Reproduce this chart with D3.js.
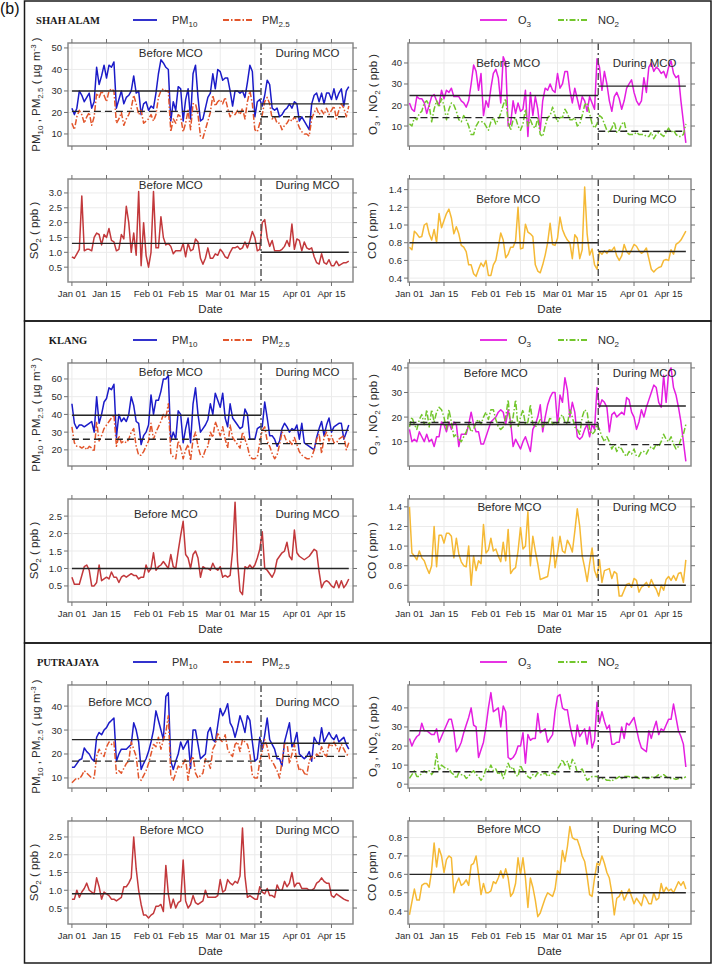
<!DOCTYPE html>
<html>
<head>
<meta charset="utf-8">
<script src="https://cdn.jsdelivr.net/npm/d3@7"></script>
<style>
  body { margin: 0; background: #fff; }
  svg text { font-family: "Liberation Sans", Arial, sans-serif; fill: #2b2b2b; }
</style>
</head>
<body>
<svg id="chart" width="713" height="965"></svg>
<script>
// ---- Data (daily means, 1 Jan - 22 Apr 2020) ----
const startDate = new Date(2020, 0, 1);
const endDate = new Date(2020, 3, 23); // exclusive
const mcoLineDate = new Date(2020, 2, 17, 12);
const tickDates = [
  new Date(2020, 0, 1), new Date(2020, 0, 15), new Date(2020, 1, 1), new Date(2020, 1, 15),
  new Date(2020, 2, 1), new Date(2020, 2, 15), new Date(2020, 3, 1), new Date(2020, 3, 15)
];
const stationNames = ['SHAH ALAM', 'KLANG', 'PUTRAJAYA'];

// Shah Alam
const shahAlamPM10 = [
  22,19,22,30,28,25,27,29,22,25,
  41,33,37,42,36,42,41,43.5,22,26,
  30,24,27,28,30,37,29,30,19,24,
  25,21,23,22,29,38,44.5,43,41,40,
  16,25,21,32,31,16,26,31,17,38,
  42,27,16,17,22,27,29,38,31,40,
  39,35,36,36,30,23,30,30,29,30,
  27,34,42,39,18,25,26,23,28,35,
  33,22,21,22,18,19,21,22,24,22,
  25,24,16,18,16,14,12,24,28,29,
  25,29,24,29,29,26,31,26,29,31,
  23,30,32];
const shahAlamPM25 = [
  15,12,18,21,19,15,18,20,14,18,
  29,27,30,28,25,30,31,30,15,17,
  20,14,17,19,22,28,24,19,21,15,
  16,17,19,16,19,27,30,31,30,30,
  11,17,15,19,18,11,15,21,12,24,
  24,19,9,8,12,16,20,28,23,25,
  26,24,27,22,18,20,19,21,19,22,
  17,25,30,24,12,11,15,19,25,27,
  24,17,18,15,15,12,14,15,17,16,
  18,16,13,11,10,10,9,17,20,22,
  19,21,19,22,19,21,23,17,21,24,
  22,18,23];
const shahAlamO3 = [
  21,18,17,24,23,23,21,16,20,24,
  25,22,20,27,23,27,26,28,24,24,
  24,22,21,19,22,30,39,36,27,35,
  15,22,19,28,35,37,33,21,43,40,
  10,11,22,16,21,17,18,27,5,26,
  15,24,18,8,22,28,27,30,27,26,
  35,28,30,36,36,27,21,28,23,18,
  24,22,17,24,21,18,42,38,27,36,
  30,22,17,24,26,23,18,22,28,30,
  32,26,22,20,22,33,26,38,40,36,
  38,37,35,36,33,38,41,35,33,34,
  22,12,2];
const shahAlamNO2 = [
  11,10,14,13,16,17,21,22,20,12,
  18,22,19,23,20,13,18,21,20,17,
  13,12,15,13,10,6,6,10,12,12,
  12,10,8,12,14,11,13,16,20,23,
  12,8,13,14,10,8,11,18,10,13,
  10,9,14,6,5,10,14,15,19,15,
  12,14,14,18,16,13,13,14,10,11,
  15,20,21,16,11,9,11,15,14,11,
  8,7,9,12,7,8,11,12,7,6,
  6,6,7,6,6,6,5,5,7,4,
  6,7,6,5,7,9,7,8,6,5,
  5,6,11];
const shahAlamSO2 = [
  0.85,0.8,0.95,1.1,2.9,1.05,1.1,1.1,1.05,1.5,
  1.65,1.6,1.25,1.6,1.5,1.8,1.4,1.35,1.05,1.1,
  1.6,1.45,2.55,2.0,1.0,1.65,0.9,3.05,0.55,2.0,
  0.9,0.5,1.0,3.05,1.15,1.15,2.2,1.5,1.25,1.3,
  1.2,0.95,1.05,1.05,1.05,1.3,0.85,1.3,1.05,1.1,
  1.45,1.35,0.8,0.6,0.8,1.15,0.8,0.8,0.95,0.9,
  1.1,1.0,0.85,0.8,1.0,1.15,1.15,1.2,1.1,1.15,
  1.35,1.15,1.4,1.7,1.5,1.05,1.1,2.0,2.1,1.5,
  1.2,1.4,1.05,1.05,1.05,1.1,1.2,1.4,1.2,1.95,
  1.1,1.45,1.4,1.05,1.35,1.15,1.1,1.15,0.85,0.65,
  0.6,0.95,0.65,0.6,0.75,0.55,0.55,0.7,0.55,0.6,
  0.65,0.65,0.7];
const shahAlamCO = [
  0.75,0.72,0.93,0.9,0.86,0.87,1.0,1.02,0.9,0.83,
  0.95,0.8,1.13,0.97,1.05,1.13,1.18,1.08,0.9,0.98,
  0.9,0.77,0.75,0.7,0.55,0.55,0.45,0.42,0.5,0.57,
  0.53,0.6,0.43,0.43,0.55,0.6,0.75,0.91,0.83,0.63,
  0.67,0.75,0.75,0.82,1.2,0.73,0.74,1.01,0.92,0.9,
  0.87,0.55,0.48,0.46,0.55,0.66,0.8,1.02,0.78,0.77,
  0.85,1.09,0.95,0.88,0.83,0.8,0.62,0.89,0.85,0.62,
  0.72,1.43,0.9,0.66,0.73,0.55,0.5,0.7,0.67,0.71,
  0.68,0.72,0.71,0.75,0.65,0.6,0.65,0.78,0.7,0.67,
  0.72,0.78,0.76,0.71,0.68,0.7,0.74,0.62,0.5,0.47,
  0.5,0.52,0.53,0.6,0.61,0.6,0.72,0.67,0.78,0.8,
  0.83,0.88,0.93];

// Klang
const klangPM10 = [
  46,35,32,34,34,33,34,35,36,30,
  50,35,40,47,49,55,54,57,27,40,
  36,38,36,40,50,45,36,35,23,28,
  30,34,51,40,48,48,53,60,60,62,
  25,30,26,42,40,24,32,38,24,46,
  55,40,30,32,34,37,46,40,52,48,
  44,52,38,33,46,38,36,34,32,33,
  43,40,26,26,26,32,33,33,47,38,
  28,28,26,22,25,32,35,33,30,32,
  31,34,26,35,24,23,22,21,20,27,
  32,36,28,34,38,30,33,34,35,35,
  26,30,34];
const klangPM25 = [
  33,24,22,22,21,22,20,22,21,19,
  36,25,28,32,34,36,38,40,22,28,
  24,25,24,26,30,32,22,17,17,19,
  22,25,35,26,30,33,36,40,38,46,
  18,16,15,25,21,15,20,23,14,26,
  30,22,17,16,20,22,30,27,36,32,
  28,33,26,21,34,27,25,23,21,30,
  26,22,16,15,15,16,24,31,33,25,
  22,18,15,17,23,30,28,24,25,23,
  27,23,19,17,16,15,15,16,20,26,
  29,18,27,30,25,28,24,24,26,27,
  28,20,24];
const klangO3 = [
  15,10,11,10,14,12,10,13,10,11,
  8,12,12,18,17,14,18,15,18,17,
  8,13,13,13,17,22,17,14,14,9,
  9,12,15,18,19,20,22,23,22,17,
  23,18,8,11,9,7,10,12,9,6,
  15,17,20,25,14,20,25,28,30,30,
  17,29,26,36,31,20,26,22,12,11,
  12,15,17,12,17,15,32,24,27,26,
  24,14,21,22,20,21,22,21,28,27,
  22,20,15,18,23,20,24,27,30,33,
  32,26,24,37,26,38,40,32,29,24,
  18,10,2];
const klangNO2 = [
  16,20,17,15,19,21,17,23,16,23,
  18,22,24,23,20,15,23,18,12,13,
  11,10,12,14,17,14,15,18,19,17,
  20,22,19,23,23,19,16,15,16,20,
  27,16,20,27,16,20,23,17,18,25,
  17,16,17,19,16,18,17,20,17,18,
  17,20,21,18,17,23,20,16,15,13,
  20,23,22,15,13,14,17,15,12,10,
  12,10,7,9,6,8,7,5,4,6,
  5,7,4,4,6,6,5,7,8,7,
  9,8,10,13,11,10,12,9,7,8,
  11,13,17];
const klangSO2 = [
  0.75,0.55,0.55,0.55,0.8,1.05,1.1,0.95,0.5,0.5,
  0.6,1.1,0.65,0.7,0.75,0.7,0.9,0.75,0.75,0.6,
  0.75,0.8,0.75,0.8,0.85,0.8,0.8,0.7,0.75,0.75,
  1.1,0.9,1.0,1.45,0.95,1.05,1.1,1.2,1.1,1.0,
  1.4,1.05,1.0,1.5,1.95,2.35,1.4,1.3,1.0,1.4,
  1.5,1.3,0.75,1.05,1.0,1.0,0.95,1.15,1.0,0.95,
  1.05,0.75,0.8,0.75,0.8,1.5,2.9,1.2,0.35,0.25,
  1.05,1.0,1.1,1.0,1.1,1.3,1.55,2.05,1.0,0.95,
  0.85,0.75,0.9,1.25,1.35,1.45,1.5,1.75,1.35,1.25,
  2.1,1.45,1.35,1.3,1.25,1.3,1.35,1.45,1.55,1.5,
  0.9,0.45,0.6,0.65,0.6,0.5,0.45,0.65,0.45,0.65,
  0.45,0.55,0.7];
const klangCO = [
  1.4,0.93,0.9,0.86,0.95,0.88,0.85,0.78,0.72,0.8,
  1.2,0.79,1.11,1.11,1.03,1.13,1.13,1.1,0.88,1.08,
  0.92,0.84,0.8,0.79,1.0,0.6,0.9,0.75,0.85,0.82,
  1.22,0.93,0.96,1.08,0.95,0.97,0.9,0.84,1.04,0.85,
  1.17,0.72,0.76,0.78,0.95,1.19,0.97,1.0,1.35,0.8,
  1.1,0.95,0.82,0.66,0.67,0.68,0.69,0.85,1.09,0.78,
  0.93,1.1,0.95,0.93,1.06,1.01,0.94,1.15,1.38,1.2,
  0.9,0.78,0.64,0.82,0.98,0.75,0.68,0.86,0.63,0.75,
  0.76,0.77,0.67,0.74,0.72,0.49,0.49,0.55,0.61,0.62,
  0.58,0.67,0.65,0.53,0.58,0.6,0.63,0.58,0.66,0.6,
  0.56,0.49,0.6,0.55,0.66,0.69,0.65,0.7,0.65,0.72,
  0.73,0.63,0.86];

// Putrajaya
const putrajayaPM10 = [
  14.5,14.5,16,17.5,18,22.5,21,20,18,17,
  27,29,28,30,31,33,34,35,17,20,
  22,22,22,23,24,33,30,25,13.5,16,
  18,21,25,30,38,34,30,26,44,45.5,
  17,13.5,17,20,25,22,24,26,14,30,
  30,24,18,19,20,29,31,26,25,32,
  39,36,38,41,33,31,27,31,36,33,
  29,36,34,25,17,18,27,22,28,35,
  26,24,22,18,18,15,25,29,33,23,
  25,29,20,19,18,19,21,17,27,25,
  24,31,25,27,29,27,26,28,25,26,
  27,24,22];
const putrajayaPM25 = [
  8,9,10,9.5,11,13,12,11,10,10,
  19,22,20,19,23,25,24,25,12,13,
  12,14,16,17,25,22,19,10,9,11,
  13,16,20,24,23,27,22,26,29,36,
  11,9,12,15,14,16,18,9,17,19,
  12,10,11,12,18,17,14,22,24,29,
  26,25,28,22,20,19,24,25,21,26,
  25,24,20,11,10,10,17,21,26,23,
  18,17,15,13,10,17,24,25,16,20,
  24,17,13,14,12,11,17,19,18,20,
  19,23,20,19,24,23,25,23,21,24,
  22,20,19];
const putrajayaO3 = [
  24,20,23,25,26,32,28,28,27,26,
  26,29,22,25,28,31,34,34,28,17,
  19,22,27,31,35,40,31,30,14,18,
  22,30,40,48,38,39,40,30,41,38,
  14,13,14,16,20,20,27,11,26,23,
  24,24,37,27,28,29,22,24,26,38,
  46,47,40,39,39,31,25,20,31,25,
  27,29,21,30,19,23,43,32,38,33,
  29,31,21,21,22,22,30,24,32,31,
  33,35,29,23,19,18,17,28,24,29,
  33,26,29,28,31,34,34,42,35,28,
  25,21,9];
const putrajayaNO2 = [
  3,5,7,4,4,6,7,6,7,5,
  7,16,7,10,9,8,8,6,5,3,
  6,5,5,3,4,6,7,5,4,2,
  4,8,7,10,7,8,5,7,3,7,
  11,8,9,5,4,10,7,6,4,3,
  5,4,6,5,5,6,4,5,6,5,
  8,10,13,10,12,8,13,11,6,7,
  8,5,2,3,4,4,4,3,3,3,
  2,2,1.5,3,3,4,3,4,4,4,
  3,4,4,3,3,4,3,3,4,3,
  4,5,4,5,4,3,3,3,2.5,3,
  3,3,4];
const putrajayaSO2 = [
  0.75,0.75,1.0,0.8,0.95,1.05,1.2,1.0,0.95,0.9,
  1.35,1.1,0.75,0.95,0.9,0.85,0.75,0.75,0.7,0.75,
  0.8,1.1,1.1,1.2,1.35,2.5,1.6,1.0,0.6,0.3,
  0.3,0.22,0.3,0.35,0.55,0.55,0.6,0.4,1.7,0.9,
  0.5,0.75,0.5,0.65,0.7,1.85,0.7,0.5,0.6,0.85,
  0.65,0.6,0.65,0.7,1.0,0.8,0.8,0.8,0.8,0.85,
  1.3,0.95,1.0,1.3,1.2,1.15,1.25,1.2,1.4,2.75,
  1.4,0.8,0.85,0.8,0.75,0.75,1.1,0.95,0.9,1.05,
  0.85,0.85,0.8,1.15,1.0,1.0,1.25,1.1,1.2,1.5,
  1.1,1.2,1.2,1.05,1.05,1.05,1.0,1.0,1.05,1.2,
  1.25,1.35,1.25,1.2,1.2,0.85,0.8,0.9,0.85,0.8,
  0.75,0.72,0.7];
const putrajayaCO = [
  0.38,0.45,0.52,0.46,0.46,0.54,0.55,0.55,0.53,0.62,
  0.77,0.64,0.74,0.7,0.61,0.68,0.7,0.69,0.5,0.55,
  0.58,0.54,0.55,0.57,0.54,0.65,0.66,0.7,0.6,0.49,
  0.55,0.5,0.5,0.51,0.56,0.55,0.58,0.62,0.58,0.63,
  0.58,0.48,0.5,0.55,0.69,0.6,0.69,0.58,0.42,0.58,
  0.53,0.46,0.37,0.39,0.43,0.47,0.5,0.49,0.48,0.52,
  0.62,0.6,0.73,0.67,0.75,0.86,0.8,0.79,0.79,0.75,
  0.7,0.67,0.59,0.49,0.48,0.58,0.66,0.65,0.7,0.66,
  0.61,0.58,0.5,0.38,0.47,0.48,0.51,0.46,0.49,0.52,
  0.48,0.44,0.47,0.45,0.43,0.49,0.47,0.44,0.44,0.5,
  0.46,0.47,0.55,0.5,0.53,0.51,0.52,0.5,0.53,0.56,
  0.54,0.56,0.52];

// Period means [before MCO, during MCO]
const shahAlamMeans = { pm10: [30, 24], pm25: [20.5, 18], o3: [24.5, 29], no2: [14, 7.5], so2: [1.3, 1.0], co: [0.8, 0.7] };
const klangMeans = { pm10: [39.5, 31], pm25: [26, 23.5], o3: [17, 24.5], no2: [17.8, 8.8], so2: [1.0, 1.0], co: [0.9, 0.6] };
const putrajayaMeans = { pm10: [26, 24.5], pm25: [17, 19], o3: [28, 27.5], no2: [6.5, 3.5], so2: [0.9, 1.0], co: [0.6, 0.5] };

// Axis ticks
const pmTicks = [[10, 20, 30, 40, 50], [20, 30, 40, 50, 60], [10, 20, 30, 40]];
const gasTicks = [[10, 20, 30, 40], [10, 20, 30, 40], [0, 10, 20, 30, 40]];
const so2Ticks = [[0.5, 1.0, 1.5, 2.0, 2.5, 3.0], [0.5, 1.0, 1.5, 2.0, 2.5], [0.5, 1.0, 1.5, 2.0, 2.5]];
const coTicks = [[0.4, 0.6, 0.8, 1.0, 1.2, 1.4], [0.6, 0.8, 1.0, 1.2, 1.4], [0.4, 0.5, 0.6, 0.7, 0.8]];

// ---- Layout ----
const colors = { pm10: '#1b1bc8', pm25: '#e2552b', o3: '#e41ee0', no2: '#72c62c', so2: '#c2383b', co: '#f5b935' };
const dashDot = '6,2,1.5,2';
const blockTops = [1, 321, 643];
const blockBottoms = [321, 643, 963];
const colX = [[68, 353], [408, 691]];
const rowY = [42, 178];
const boxH = 103;

const yDomains = [
  [[4.4, 52.3], [0.5, 49.5], [0, 3.47], [0.356, 1.52]],
  [[10.9, 69], [0.1, 42], [0.04, 2.99], [0.43, 1.48]],
  [[5.8, 48.8], [-2, 52], [0.05, 2.95], [0.33, 0.89]]
];
// vertical offsets of the "Before/During MCO" captions (null = none), and day of "Before" caption
const captionDy = [[10, 20, 6, 20], [9, 10, 15, 8], [17, null, 9, 8]];
const captionDay = [[40, 40, 40, 40], [40, 35, 38, 40.5], [19.5, 40, 40.4, 40.3]];

const dates = d3.timeDay.range(startDate, endDate);
const svg = d3.select('#chart');

function dayOffset(d) { return d3.timeHour.offset(startDate, Math.round(d * 24)); }

const xScales = [
  d3.scaleTime().domain([dayOffset(-1.6), dayOffset(113.7)]).range(colX[0]),
  d3.scaleTime().domain([dayOffset(-0.6), dayOffset(114.1)]).range(colX[1])
];

// writes text with sub/superscripts using dy shifts
function richText(sel, parts, small) {
  let cur = 0;
  parts.forEach(([t, type]) => {
    const target = type === 'sub' ? 3 : type === 'sup' ? -4 : 0;
    sel.append('tspan')
      .attr('dy', target - cur)
      .style('font-size', type ? small + 'px' : null)
      .text(t);
    cur = target;
  });
}

const titles = [
  [['PM', ''], ['10', 'sub'], [' , PM', ''], ['2.5', 'sub'], [' ( \u00b5g m', ''], ['-3', 'sup'], [' )', '']],
  [['O', ''], ['3', 'sub'], [' , NO', ''], ['2', 'sub'], [' ( ppb )', '']],
  [['SO', ''], ['2', 'sub'], [' ( ppb )', '']],
  [['CO ( ppm )', '']]
];
const titleX = [40, 377, 38, 376];

function drawPanel(top, cfg) {
  const x = xScales[cfg.col];
  const y0 = top + rowY[cfg.row];
  const y = d3.scaleLinear().domain(cfg.yDomain).range([y0 + boxH, y0]);
  const [xl, xr] = colX[cfg.col];
  const g = svg.append('g');

  // grid
  g.selectAll('.vg').data(tickDates).enter().append('line')
    .attr('x1', d => x(d)).attr('x2', d => x(d))
    .attr('y1', y0).attr('y2', y0 + boxH)
    .attr('stroke', '#ebebeb').attr('stroke-width', 1);
  g.selectAll('.hg').data(cfg.ticks).enter().append('line')
    .attr('x1', xl).attr('x2', xr)
    .attr('y1', d => y(d)).attr('y2', d => y(d))
    .attr('stroke', '#ebebeb').attr('stroke-width', 1);

  // series
  const line = d3.line().x((d, i) => x(dates[i])).y(d => y(d));
  cfg.series.forEach(s => {
    g.append('path').datum(s.values)
      .attr('d', line)
      .attr('fill', 'none')
      .attr('stroke', s.color)
      .attr('stroke-width', 1.5)
      .attr('stroke-linejoin', 'round')
      .attr('stroke-dasharray', s.dash);
  });

  // period means
  const xm = x(mcoLineDate);
  cfg.means.forEach(m => {
    const segs = [[x(dates[0]), xm, m.values[0]], [xm, x(dates[dates.length - 1]), m.values[1]]];
    segs.forEach(([a, b, v]) => {
      g.append('line')
        .attr('x1', a).attr('x2', b).attr('y1', y(v)).attr('y2', y(v))
        .attr('stroke', '#262626').attr('stroke-width', 1.4)
        .attr('stroke-dasharray', m.dash);
    });
  });

  // MCO start
  g.append('line')
    .attr('x1', xm).attr('x2', xm).attr('y1', y0).attr('y2', y0 + boxH)
    .attr('stroke', '#4a4a4a').attr('stroke-width', 1.4)
    .attr('stroke-dasharray', '7,3,2,3');

  // captions
  if (cfg.captionDy != null) {
    const cy = y0 + cfg.captionDy + 4;
    g.append('text').attr('x', x(dayOffset(cfg.captionDay))).attr('y', cy)
      .attr('text-anchor', 'middle').style('font-size', '11.5px').text('Before MCO');
    g.append('text').attr('x', x(dayOffset(95.3))).attr('y', cy)
      .attr('text-anchor', 'middle').style('font-size', '11.5px').text('During MCO');
  }

  // frame
  g.append('rect').attr('x', xl).attr('y', y0).attr('width', xr - xl).attr('height', boxH)
    .attr('fill', 'none').attr('stroke', '#8a8a8a').attr('stroke-width', 1.5);

  // ticks on four sides
  const tk = g.append('g').attr('stroke', '#707070').attr('stroke-width', 1);
  tickDates.forEach(d => {
    tk.append('line').attr('x1', x(d)).attr('x2', x(d)).attr('y1', y0).attr('y2', y0 - 4);
    tk.append('line').attr('x1', x(d)).attr('x2', x(d)).attr('y1', y0 + boxH).attr('y2', y0 + boxH + 4);
  });
  cfg.ticks.forEach(v => {
    tk.append('line').attr('x1', xl).attr('x2', xl - 4).attr('y1', y(v)).attr('y2', y(v));
    tk.append('line').attr('x1', xr).attr('x2', xr + 4).attr('y1', y(v)).attr('y2', y(v));
  });

  // y tick labels
  g.selectAll('.yl').data(cfg.ticks).enter().append('text')
    .attr('x', xl - 6).attr('y', d => y(d) + 3.5)
    .attr('text-anchor', 'end').style('font-size', '9.5px')
    .text(cfg.fmt);

  // y title
  const t = g.append('text')
    .attr('transform', `translate(${cfg.titleX},${y0 + boxH / 2}) rotate(-90)`)
    .attr('text-anchor', 'middle').style('font-size', '11.5px');
  richText(t, cfg.title, 8);

  // x labels on lower row
  if (cfg.row === 1) {
    const fmt = d3.timeFormat('%b %d');
    g.selectAll('.xl').data(tickDates).enter().append('text')
      .attr('x', d => x(d)).attr('y', y0 + boxH + 15)
      .attr('text-anchor', 'middle').style('font-size', '9.5px')
      .text(fmt);
    g.append('text').attr('x', (xl + xr) / 2).attr('y', y0 + boxH + 31)
      .attr('text-anchor', 'middle').style('font-size', '11.5px').text('Date');
  }
}

function drawLegend(top) {
  const ly = top + 19;
  const items = [
    { x1: 133, x2: 157, tx: 172, color: colors.pm10, dash: null, label: [['PM', ''], ['10', 'sub']] },
    { x1: 223, x2: 252, tx: 262, color: colors.pm25, dash: dashDot, label: [['PM', ''], ['2.5', 'sub']] },
    { x1: 480, x2: 507, tx: 518, color: colors.o3, dash: null, label: [['O', ''], ['3', 'sub']] },
    { x1: 558, x2: 588, tx: 598, color: colors.no2, dash: dashDot, label: [['NO', ''], ['2', 'sub']] }
  ];
  items.forEach(it => {
    svg.append('line').attr('x1', it.x1).attr('x2', it.x2).attr('y1', ly).attr('y2', ly)
      .attr('stroke', it.color).attr('stroke-width', 1.8).attr('stroke-dasharray', it.dash);
    const t = svg.append('text').attr('x', it.tx).attr('y', ly + 4).style('font-size', '11px');
    richText(t, it.label, 8);
  });
}

const stations = [
  { pm10: shahAlamPM10, pm25: shahAlamPM25, o3: shahAlamO3, no2: shahAlamNO2, so2: shahAlamSO2, co: shahAlamCO, means: shahAlamMeans },
  { pm10: klangPM10, pm25: klangPM25, o3: klangO3, no2: klangNO2, so2: klangSO2, co: klangCO, means: klangMeans },
  { pm10: putrajayaPM10, pm25: putrajayaPM25, o3: putrajayaO3, no2: putrajayaNO2, so2: putrajayaSO2, co: putrajayaCO, means: putrajayaMeans }
];

svg.append('text').attr('x', 0).attr('y', 14).style('font-size', '16px').style('fill', '#111').text('(b)');

stations.forEach((st, k) => {
  const top = blockTops[k];
  svg.append('rect')
    .attr('x', 24.5).attr('y', top).attr('width', 686.5).attr('height', blockBottoms[k] - top)
    .attr('fill', 'none').attr('stroke', '#1a1a1a').attr('stroke-width', 1.5);

  svg.append('text').attr('x', 68).attr('y', top + 23)
    .attr('text-anchor', 'middle')
    .style('font-family', '"Liberation Serif", "Times New Roman", serif')
    .style('font-weight', 'bold').style('font-size', '10.5px').style('fill', '#1a1a1a')
    .text(stationNames[k]);
  drawLegend(top);

  const f0 = d3.format('d');
  const f1 = d3.format('.1f');
  const panels = [
    { col: 0, row: 0, fmt: f0, ticks: pmTicks[k], title: titles[0], titleX: titleX[0],
      series: [{ values: st.pm10, color: colors.pm10, dash: null }, { values: st.pm25, color: colors.pm25, dash: dashDot }],
      means: [{ values: st.means.pm10, dash: null }, { values: st.means.pm25, dash: '7,4' }] },
    { col: 1, row: 0, fmt: f0, ticks: gasTicks[k], title: titles[1], titleX: titleX[1],
      series: [{ values: st.o3, color: colors.o3, dash: null }, { values: st.no2, color: colors.no2, dash: dashDot }],
      means: [{ values: st.means.o3, dash: null }, { values: st.means.no2, dash: '7,4' }] },
    { col: 0, row: 1, fmt: f1, ticks: so2Ticks[k], title: titles[2], titleX: titleX[2],
      series: [{ values: st.so2, color: colors.so2, dash: null }],
      means: [{ values: st.means.so2, dash: null }] },
    { col: 1, row: 1, fmt: f1, ticks: coTicks[k], title: titles[3], titleX: titleX[3],
      series: [{ values: st.co, color: colors.co, dash: null }],
      means: [{ values: st.means.co, dash: null }] }
  ];
  panels.forEach((p, j) => {
    p.yDomain = yDomains[k][j];
    p.captionDy = captionDy[k][j];
    p.captionDay = captionDay[k][j];
    drawPanel(top, p);
  });
});
</script>
</body>
</html>
